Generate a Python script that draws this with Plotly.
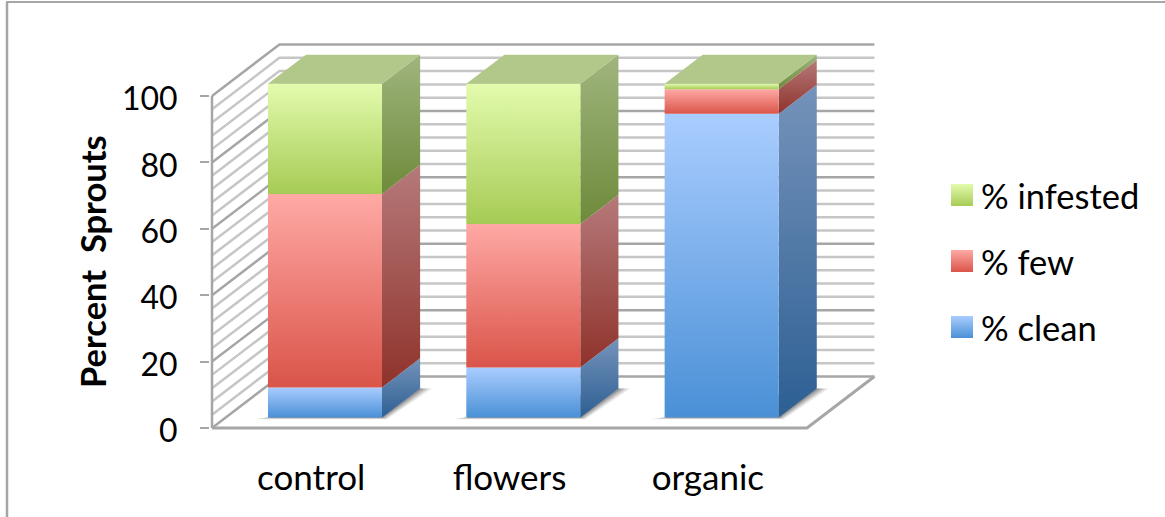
import plotly.graph_objects as go

# ---- data ----
categories = ["control", "flowers", "organic"]
pct_clean = [9, 15, 91]
pct_few = [58, 43, 7.4]
pct_infested = [33, 42, 1.6]
series_names = ["% clean", "% few", "% infested"]
y_ticks = [0, 20, 40, 60, 80, 100]
minor_grid = list(range(0, 101, 4))

# ---- styles ----
W, H = 1165, 517
FONT = "Lato"
GRID_MINOR, GRID_MAJOR = "#c6c6c6", "#a6a6a6"
FRONT = {"% clean": ("#aacdff", "#4a90d6"), "% few": ("#ffa9a5", "#da5449"), "% infested": ("#e3fbad", "#a6cb55")}
SIDE = {"% clean": ("#7593ba", "#2d5f93"), "% few": ("#b57a7a", "#8f322b"), "% infested": ("#a0b57e", "#6e8a3a")}
TOP_FACE = "#b2c88a"

PX_PER_CAT, PX_PER_UNIT = 198.33, 3.32
X0_PX, Y0_PX = 212, 428   # pixel of x=-0.5 and of value 0 on the front axis plane
LEFT_PX, BOTTOM_PX = 210, 430
DX, DY = 0.340, 15.5      # oblique projection of full depth
D0, D1 = 0.205, 0.770     # bar depth span
HALF = 0.2875
BAR_SCALE = 1.005


def px2x(px):
    return -0.5 + (px - X0_PX) / PX_PER_CAT


def px2y(py):
    return (Y0_PX - py) / PX_PER_UNIT


def paper_y(py):
    return 1 - py / H


def proj(cx, v, d):
    return cx + d * DX, v + d * DY


fig = go.Figure()


def poly(pts, **kw):
    xs, ys = zip(*(pts + [pts[0]]))
    fig.add_trace(go.Scatter(x=list(xs), y=list(ys), mode="lines", fill="toself", line=dict(width=0),
                             hoverinfo="skip", showlegend=False, cliponaxis=False, **kw))


def grad_poly(pts, top, bottom, name):
    poly(pts, name=name, fillgradient=dict(type="vertical", colorscale=[[0, bottom], [1, top]]))


def seg(pts, color, width):
    xs, ys = zip(*pts)
    fig.add_trace(go.Scatter(x=list(xs), y=list(ys), mode="lines", line=dict(color=color, width=width),
                             hoverinfo="skip", showlegend=False, cliponaxis=False))


# ---- walls ----
xl, xr = -0.5, 2.5
for v in minor_grid:
    c = GRID_MAJOR if v % 20 == 0 else GRID_MINOR
    seg([proj(xl, v, 0), proj(xl, v, 1), proj(xr, v, 1)], c, 2.5)
# floor and axis lines
seg([proj(xl, 0, 0), proj(xr, 0, 0), proj(xr, 0, 1)], GRID_MAJOR, 3)
seg([proj(xl, 0, 0), proj(xl, 100, 0)], GRID_MAJOR, 2.5)

# ---- bars ----
for i, cat in enumerate(categories):
    # floor shadow
    for grow, a in ((0.06, 0.10), (0.045, 0.14), (0.03, 0.18), (0.015, 0.22)):
        L, R = i - HALF, i + HALF
        poly([proj(L - grow, 0, D0 - 0.03 * grow / 0.055), proj(R + grow * 0.6, 0, D0 - 0.03 * grow / 0.055),
              proj(R + grow, 0, D1), proj(R - 0.02, 0, D1), proj(L, 0, D0)],
             fillcolor=f"rgba(50,50,50,{a})")
    base = 0
    for name, vals in zip(series_names, (pct_clean, pct_few, pct_infested)):
        v0, v1 = base * BAR_SCALE, (base + vals[i]) * BAR_SCALE
        base += vals[i]
        L, R = i - HALF, i + HALF
        grad_poly([proj(R, v0, D0), proj(R, v0, D1), proj(R, v1, D1), proj(R, v1, D0)], *SIDE[name], f"{name} side")
        grad_poly([proj(L, v0, D0), proj(R, v0, D0), proj(R, v1, D0), proj(L, v1, D0)], *FRONT[name], f"{name} {cat}")
    top = base * BAR_SCALE
    poly([proj(L, top, D0), proj(R, top, D0), proj(R, top, D1), proj(L, top, D1)], fillcolor=TOP_FACE)

# ---- legend (large gradient swatches with text) ----
LEGEND_ROWS = {"% infested": 195, "% few": 261, "% clean": 327}
annotations = []
for name, py in LEGEND_ROWS.items():
    t, b = FRONT[name]
    fig.add_trace(go.Scatter(x=[px2x(962)], y=[px2y(py)], mode="markers", name=name, showlegend=False,
                             hoverinfo="skip", cliponaxis=False,
                             marker=dict(symbol="square", size=22, color=t, line=dict(width=0),
                                         gradient=dict(type="vertical", color=b))))
    annotations.append(dict(x=979 / W, y=paper_y(py), xref="paper", yref="paper", text=name, showarrow=False,
                            xanchor="left", yanchor="middle", font=dict(family=FONT, size=34.5, color="#000")))

annotations.append(dict(x=92 / W, y=paper_y(262), xref="paper", yref="paper", text="Percent \u00a0Sprouts",
                        showarrow=False, textangle=-90, xanchor="center", yanchor="middle",
                        font=dict(family=FONT, size=34.5, color="#000", weight="bold")))

frame = [
    dict(type="line", xref="paper", yref="paper", x0=7 / W, x1=7 / W, y0=0, y1=paper_y(2),
         line=dict(color="#a6a6a6", width=2.5)),
    dict(type="line", xref="paper", yref="paper", x0=6 / W, x1=1, y0=paper_y(2), y1=paper_y(2),
         line=dict(color="#a6a6a6", width=2)),
]

fig.update_layout(
    width=W, height=H, autosize=False, margin=dict(l=0, r=0, t=0, b=0), showlegend=False,
    paper_bgcolor="white", plot_bgcolor="white", annotations=annotations, shapes=frame,
    font=dict(family=FONT, color="#000"),
    xaxis=dict(domain=[LEFT_PX / W, 1], range=[px2x(LEFT_PX), px2x(W)], tickvals=[0, 1, 2], ticktext=categories,
               showgrid=False, zeroline=False, showline=False, ticks="", tickfont=dict(size=35, family=FONT),
               ticklabelstandoff=24, automargin=False),
    yaxis=dict(domain=[1 - BOTTOM_PX / H, 1], range=[px2y(BOTTOM_PX), px2y(0)], tickvals=y_ticks,
               showgrid=False, zeroline=False, showline=False, ticks="outside", ticklen=9, tickwidth=2,
               tickcolor=GRID_MAJOR, tickfont=dict(size=32, family=FONT), ticklabelstandoff=16,
               ticklabelshift=3, automargin=False),
)

fig.write_html("out.html", config=dict(displayModeBar=False, responsive=False),
               default_width="1165px", default_height="517px",
               post_script="document.body.style.margin='0';document.body.style.overflow='hidden';")
